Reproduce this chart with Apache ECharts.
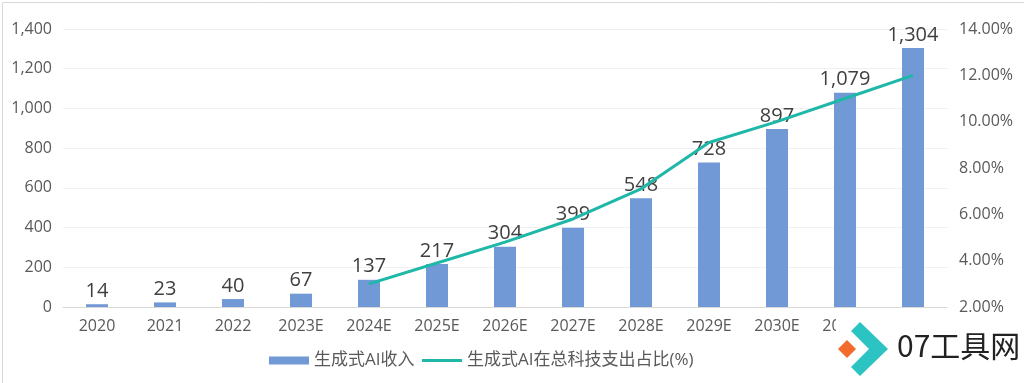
<!DOCTYPE html>
<html><head><meta charset="utf-8">
<script src="https://cdn.jsdelivr.net/npm/echarts@6/dist/echarts.min.js"></script>
<style>html,body{margin:0;padding:0;background:#fff}#c{width:1024px;height:383px}</style>
</head><body><div id="c"></div>
<script>
const categories = ['2020','2021','2022','2023E','2024E','2025E','2026E','2027E','2028E','2029E','2030E','2031E','2032E'];
const revenue = [14,23,40,67,137,217,304,399,548,728,897,1079,1304];
const share = [null,null,null,null,3.0,3.9,4.8,5.8,7.1,9.1,10.0,11.0,12.0];
const seriesNames = ['生成式AI收入','生成式AI在总科技支出占比(%)'];
const watermarkText = '07工具网';

const font = '"Open Sans","Noto Sans CJK SC",sans-serif';
const chart = echarts.init(document.getElementById('c'));
chart.setOption({
  animation:false,
  textStyle:{fontFamily:font},
  grid:{left:63,right:77,top:29,bottom:76},
  legend:{
    bottom:9,left:264,itemGap:6,itemWidth:40,itemHeight:8,
    textStyle:{fontSize:17,color:'#595959',fontFamily:font},
    data:[{name:seriesNames[0],icon:'rect'},{name:seriesNames[1],itemStyle:{opacity:0},lineStyle:{width:3}}]
  },
  xAxis:{
    type:'category',data:categories,
    axisLine:{lineStyle:{color:'#d9d9d9'}},axisTick:{show:false},
    axisLabel:{fontSize:16,color:'#595959',margin:11}
  },
  yAxis:[
    {type:'value',min:0,max:1400,interval:200,
     axisLabel:{fontSize:16,color:'#595959',margin:11,formatter:v=>v.toLocaleString('en-US')},
     splitLine:{lineStyle:{color:'#f0f0f0'}},axisLine:{show:false},axisTick:{show:false}},
    {type:'value',min:2,max:14,interval:2,
     axisLabel:{fontSize:16,color:'#595959',margin:12,formatter:v=>v.toFixed(2)+'%'},
     splitLine:{show:false},axisLine:{show:false},axisTick:{show:false}}
  ],
  series:[
    {name:seriesNames[0],type:'bar',data:revenue,barWidth:22,
     itemStyle:{color:'#7099d5'},
     label:{show:true,position:'top',distance:3,fontSize:20,color:'#404040',
       formatter:p=>p.value.toLocaleString('en-US')}},
    {name:seriesNames[1],type:'line',yAxisIndex:1,data:share,showSymbol:false,symbol:'none',
     lineStyle:{width:3,color:'#1fb8a8'},itemStyle:{color:'#1fb8a8'}}
  ],
  graphic:[
    {type:'rect',left:0,top:0,shape:{width:1023,height:382},style:{fill:'none',stroke:'#d9d9d9',lineWidth:1},silent:true},
    {type:'rect',left:836,top:316,shape:{width:187,height:66},style:{fill:'#fff'},z:100},
    {type:'polygon',shape:{points:[[847,340],[856,349],[847,358],[838,349]]},style:{fill:'#f36b2c'},z:101},
    {type:'polygon',shape:{points:[[851,331],[860,322],[888,349],[860,376],[851,367],[869,349]]},style:{fill:'#2cc3c3'},z:101},
    {type:'text',left:897,top:331,style:{text:watermarkText,font:'30px "Noto Sans CJK SC",sans-serif',fill:'#222'},z:101}
  ]
});
</script></body></html>
